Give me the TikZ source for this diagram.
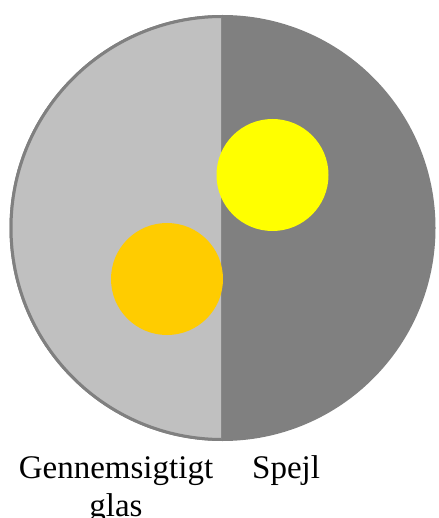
\documentclass[tikz,border=0pt]{standalone}
\usepackage{fontspec}
\setmainfont{Liberation Serif}
\begin{document}
\begin{tikzpicture}[x=1pt,y=-1pt]
\definecolor{glas}{HTML}{C0C0C0}
\definecolor{spejl}{HTML}{808080}
\definecolor{sunA}{HTML}{FFFF00}
\definecolor{sunB}{HTML}{FFCC00}
\tikzset{lbl/.style={font=\fontsize{33}{38}\selectfont, inner sep=0pt, text=black}}
\useasboundingbox (0,0) rectangle (438,518);
\coordinate (c) at (222.5,228);
% right half (mirror)
\fill[spejl] (c) circle[radius=213];
% left half (glass)
\begin{scope}
\clip (0,0) rectangle (221,518);
\fill[glas] (c) circle[radius=211.5];
\draw[spejl, line width=3pt] (c) circle[radius=211.5];
\end{scope}
% discs
\node[circle, fill=sunA, minimum size=112pt, inner sep=0pt] (ys) at (272.5,175) {};
\node[circle, fill=sunB, minimum size=112pt, inner sep=0pt] (os) at (167,279) {};
% labels
\node[lbl, anchor=base, align=center] (gl) at (116,516) {Gennemsigtigt\\glas};
\node[lbl, anchor=base west] (sp) at (252,478) {Spejl};
\end{tikzpicture}
\end{document}
